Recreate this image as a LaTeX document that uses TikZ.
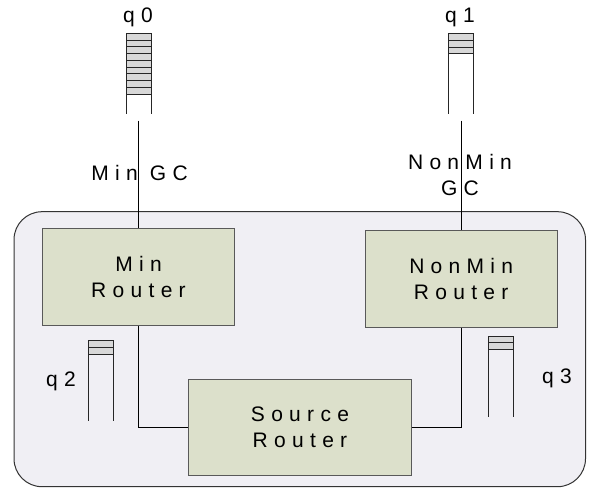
\documentclass[tikz,border=0pt]{standalone}
\usepackage{fontspec}
\setmainfont{Liberation Sans}[LetterSpace=30]
\definecolor{routerfill}{RGB}{220,224,203}
\definecolor{boxfill}{RGB}{240,239,244}
\definecolor{stripefill}{RGB}{216,216,216}
\tikzset{
  wire/.style={line width=1pt, black},
  container/.style={draw=black!80, line width=1pt, fill=boxfill, rounded corners=28pt, inner sep=0pt},
  router/.style={draw=black!65, line width=1pt, fill=routerfill, align=center, inner sep=0pt,
                 font=\fontsize{21}{26}\selectfont},
  lbl/.style={inner sep=0pt, font=\fontsize{21}{26}\selectfont},
  qside/.style={line width=1pt, black!85},
  qstripe/.style={line width=1pt, black!85, fill=stripefill}
}
% queue: left x, right x, top y, bottom y, number of stripes, stripe height
\newcommand\qstack[6]{%
  \foreach \k in {1,...,#5}{
    \draw[qstripe] (#1,{#3+(\k-1)*#6}) rectangle (#2,{#3+\k*#6});
  }
  \draw[qside] (#1,#3) -- (#1,#4);
  \draw[qside] (#2,#3) -- (#2,#4);
}
\begin{document}
\begin{tikzpicture}[x=1pt,y=-1pt]
  \useasboundingbox (0,0) rectangle (592,489);
  % container
  \node[container, minimum width=571.5pt, minimum height=275pt] (sys) at (299.75,349.2) {};
  % routers
  \node[router, minimum width=192.4pt, minimum height=96.7pt] (minr) at (138.5,277.3) {Min\\Router};
  \node[router, minimum width=192.3pt, minimum height=96.6pt] (nonr) at (461.2,279) {NonMin\\Router};
  \node[router, minimum width=222.6pt, minimum height=96.4pt] (srcr) at (300,427.5) {Source\\Router};
  % queues
  \qstack{126}{151}{33.3}{114}{9}{6.75}
  \qstack{448.7}{473.3}{33.3}{114}{3}{6.9}
  \qstack{88.5}{113.7}{340.7}{420.7}{2}{6.8}
  \qstack{488}{513}{336}{416.7}{2}{6.7}
  % queue labels
  \node[lbl, anchor=base] (lq0) at (138,22.7) {q0};
  \node[lbl, anchor=base] (lq1) at (460,22.7) {q1};
  \node[lbl, anchor=base] (lq2) at (61,386.7) {q2};
  \node[lbl, anchor=base] (lq3) at (557,383.3) {q3};
  % global channel links
  \coordinate (g0) at (138.5,120.7);
  \coordinate (g1) at (461.2,120.7);
  \draw[wire] (g0) -- (minr.north);
  \draw[wire] (g1) -- (nonr.north);
  \node[lbl, anchor=base] (lmin) at (139.5,180.7) {Min GC};
  \node[lbl, anchor=north, align=center] (lnon) at (460,154) {NonMin\\GC};
  % local links
  \draw[wire] (minr.south) |- (srcr.west);
  \draw[wire] (nonr.south) |- (srcr.east);
\end{tikzpicture}
\end{document}
